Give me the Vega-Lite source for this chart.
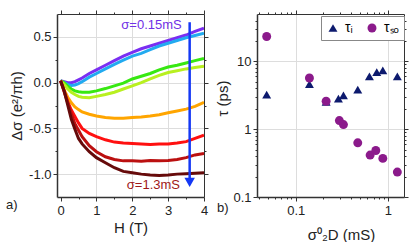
{
  "$schema": "https://vega.github.io/schema/vega-lite/v6.json",
  "padding": {"left": 6, "top": 9, "right": 1, "bottom": 0},
  "spacing": 53,
  "bounds": "flush",
  "resolve": {"scale": {"color": "independent", "shape": "independent"}, "legend": {"color": "independent", "shape": "independent"}},
  "config": {
    "font": "Liberation Sans",
    "view": {"stroke": null},
    "axis": {
      "domainColor": "#333333",
      "tickColor": "#333333",
      "tickWidth": 1,
      "labelFont": "Liberation Sans",
      "labelFontSize": 13,
      "labelColor": "#222222",
      "labelFlush": false,
      "labelOverlap": false,
      "titleFont": "Liberation Sans",
      "titleFontSize": 15,
      "titleFontWeight": "normal",
      "titleColor": "#222222",
      "gridColor": "#dddddd",
      "gridWidth": 1
    },
    "title": {"font": "Liberation Sans", "fontSize": 13, "fontWeight": "normal", "color": "#222222"}
  },
  "hconcat": [
    {
      "width": 147,
      "height": 183,
      "title": {"text": "a)", "orient": "bottom", "anchor": "start", "frame": "group", "dx": -51, "dy": -36, "offset": 0},
      "layer": [
        {
          "data": {"values": [
            {"s":"s1","H":0,"d":0.02},{"s":"s1","H":0.1,"d":0.01},{"s":"s1","H":0.2,"d":0.0},{"s":"s1","H":0.3,"d":0.0},{"s":"s1","H":0.4,"d":0.01},{"s":"s1","H":0.5,"d":0.03},{"s":"s1","H":0.6,"d":0.05},{"s":"s1","H":0.8,"d":0.1},{"s":"s1","H":1.0,"d":0.14},{"s":"s1","H":1.25,"d":0.19},{"s":"s1","H":1.5,"d":0.24},{"s":"s1","H":1.75,"d":0.29},{"s":"s1","H":2.0,"d":0.33},{"s":"s1","H":2.25,"d":0.37},{"s":"s1","H":2.5,"d":0.4},{"s":"s1","H":2.75,"d":0.43},{"s":"s1","H":3.0,"d":0.46},{"s":"s1","H":3.25,"d":0.49},{"s":"s1","H":3.5,"d":0.52},{"s":"s1","H":3.75,"d":0.56},{"s":"s1","H":4.0,"d":0.595},
            {"s":"s2","H":0,"d":0.02},{"s":"s2","H":0.1,"d":0.0},{"s":"s2","H":0.2,"d":-0.02},{"s":"s2","H":0.3,"d":-0.03},{"s":"s2","H":0.4,"d":-0.025},{"s":"s2","H":0.5,"d":-0.01},{"s":"s2","H":0.6,"d":0.01},{"s":"s2","H":0.8,"d":0.06},{"s":"s2","H":1.0,"d":0.1},{"s":"s2","H":1.25,"d":0.15},{"s":"s2","H":1.5,"d":0.2},{"s":"s2","H":1.75,"d":0.245},{"s":"s2","H":2.0,"d":0.29},{"s":"s2","H":2.25,"d":0.32},{"s":"s2","H":2.5,"d":0.36},{"s":"s2","H":2.75,"d":0.4},{"s":"s2","H":3.0,"d":0.43},{"s":"s2","H":3.25,"d":0.46},{"s":"s2","H":3.5,"d":0.49},{"s":"s2","H":3.75,"d":0.515},{"s":"s2","H":4.0,"d":0.54},
            {"s":"s3","H":0,"d":0.02},{"s":"s3","H":0.1,"d":0.0},{"s":"s3","H":0.2,"d":-0.04},{"s":"s3","H":0.3,"d":-0.07},{"s":"s3","H":0.4,"d":-0.09},{"s":"s3","H":0.5,"d":-0.1},{"s":"s3","H":0.6,"d":-0.105},{"s":"s3","H":0.8,"d":-0.105},{"s":"s3","H":1.0,"d":-0.09},{"s":"s3","H":1.25,"d":-0.065},{"s":"s3","H":1.5,"d":-0.035},{"s":"s3","H":1.75,"d":-0.005},{"s":"s3","H":2.0,"d":0.04},{"s":"s3","H":2.25,"d":0.07},{"s":"s3","H":2.5,"d":0.1},{"s":"s3","H":2.75,"d":0.14},{"s":"s3","H":3.0,"d":0.17},{"s":"s3","H":3.25,"d":0.19},{"s":"s3","H":3.5,"d":0.215},{"s":"s3","H":3.75,"d":0.24},{"s":"s3","H":4.0,"d":0.265},
            {"s":"s4","H":0,"d":0.02},{"s":"s4","H":0.1,"d":-0.02},{"s":"s4","H":0.2,"d":-0.07},{"s":"s4","H":0.3,"d":-0.105},{"s":"s4","H":0.4,"d":-0.13},{"s":"s4","H":0.5,"d":-0.15},{"s":"s4","H":0.6,"d":-0.16},{"s":"s4","H":0.8,"d":-0.165},{"s":"s4","H":1.0,"d":-0.15},{"s":"s4","H":1.25,"d":-0.13},{"s":"s4","H":1.5,"d":-0.105},{"s":"s4","H":1.75,"d":-0.07},{"s":"s4","H":2.0,"d":-0.035},{"s":"s4","H":2.25,"d":0.0},{"s":"s4","H":2.5,"d":0.04},{"s":"s4","H":2.75,"d":0.08},{"s":"s4","H":3.0,"d":0.11},{"s":"s4","H":3.25,"d":0.13},{"s":"s4","H":3.5,"d":0.15},{"s":"s4","H":3.75,"d":0.165},{"s":"s4","H":4.0,"d":0.18},
            {"s":"s5","H":0,"d":0.02},{"s":"s5","H":0.1,"d":-0.08},{"s":"s5","H":0.2,"d":-0.16},{"s":"s5","H":0.3,"d":-0.22},{"s":"s5","H":0.4,"d":-0.265},{"s":"s5","H":0.5,"d":-0.295},{"s":"s5","H":0.6,"d":-0.32},{"s":"s5","H":0.8,"d":-0.345},{"s":"s5","H":1.0,"d":-0.365},{"s":"s5","H":1.25,"d":-0.38},{"s":"s5","H":1.5,"d":-0.39},{"s":"s5","H":1.75,"d":-0.39},{"s":"s5","H":2.0,"d":-0.38},{"s":"s5","H":2.25,"d":-0.375},{"s":"s5","H":2.5,"d":-0.365},{"s":"s5","H":2.75,"d":-0.35},{"s":"s5","H":3.0,"d":-0.33},{"s":"s5","H":3.25,"d":-0.31},{"s":"s5","H":3.5,"d":-0.29},{"s":"s5","H":3.75,"d":-0.26},{"s":"s5","H":4.0,"d":-0.215},
            {"s":"s6","H":0,"d":0.02},{"s":"s6","H":0.1,"d":-0.09},{"s":"s6","H":0.2,"d":-0.21},{"s":"s6","H":0.3,"d":-0.3},{"s":"s6","H":0.4,"d":-0.37},{"s":"s6","H":0.5,"d":-0.44},{"s":"s6","H":0.6,"d":-0.5},{"s":"s6","H":0.8,"d":-0.555},{"s":"s6","H":1.0,"d":-0.59},{"s":"s6","H":1.25,"d":-0.625},{"s":"s6","H":1.5,"d":-0.65},{"s":"s6","H":1.75,"d":-0.66},{"s":"s6","H":2.0,"d":-0.665},{"s":"s6","H":2.25,"d":-0.67},{"s":"s6","H":2.5,"d":-0.675},{"s":"s6","H":2.75,"d":-0.67},{"s":"s6","H":3.0,"d":-0.67},{"s":"s6","H":3.25,"d":-0.66},{"s":"s6","H":3.5,"d":-0.645},{"s":"s6","H":3.75,"d":-0.61},{"s":"s6","H":4.0,"d":-0.575},
            {"s":"s7","H":0,"d":0.02},{"s":"s7","H":0.1,"d":-0.1},{"s":"s7","H":0.2,"d":-0.22},{"s":"s7","H":0.3,"d":-0.34},{"s":"s7","H":0.4,"d":-0.45},{"s":"s7","H":0.5,"d":-0.52},{"s":"s7","H":0.6,"d":-0.59},{"s":"s7","H":0.8,"d":-0.69},{"s":"s7","H":1.0,"d":-0.755},{"s":"s7","H":1.25,"d":-0.81},{"s":"s7","H":1.5,"d":-0.84},{"s":"s7","H":1.75,"d":-0.855},{"s":"s7","H":2.0,"d":-0.855},{"s":"s7","H":2.25,"d":-0.86},{"s":"s7","H":2.5,"d":-0.85},{"s":"s7","H":2.75,"d":-0.855},{"s":"s7","H":3.0,"d":-0.85},{"s":"s7","H":3.25,"d":-0.84},{"s":"s7","H":3.5,"d":-0.82},{"s":"s7","H":3.75,"d":-0.79},{"s":"s7","H":4.0,"d":-0.775},
            {"s":"s8","H":0,"d":0.02},{"s":"s8","H":0.1,"d":-0.09},{"s":"s8","H":0.2,"d":-0.245},{"s":"s8","H":0.3,"d":-0.4},{"s":"s8","H":0.4,"d":-0.51},{"s":"s8","H":0.5,"d":-0.61},{"s":"s8","H":0.6,"d":-0.67},{"s":"s8","H":0.8,"d":-0.755},{"s":"s8","H":1.0,"d":-0.82},{"s":"s8","H":1.25,"d":-0.875},{"s":"s8","H":1.5,"d":-0.93},{"s":"s8","H":1.75,"d":-0.97},{"s":"s8","H":2.0,"d":-0.985},{"s":"s8","H":2.25,"d":-1.0},{"s":"s8","H":2.5,"d":-1.01},{"s":"s8","H":2.75,"d":-1.015},{"s":"s8","H":3.0,"d":-1.01},{"s":"s8","H":3.25,"d":-1.0},{"s":"s8","H":3.5,"d":-0.995},{"s":"s8","H":3.75,"d":-0.99},{"s":"s8","H":4.0,"d":-0.985}
          ]},
          "mark": {"type": "line", "strokeWidth": 3, "clip": true},
          "encoding": {
            "x": {"field": "H", "type": "quantitative", "scale": {"domain": [-0.1, 4], "nice": false, "zero": false},
              "axis": {"orient": "bottom", "values": [0,0.5,1,1.5,2,2.5,3,3.5,4], "grid": true,
                "labelExpr": "datum.value % 1 == 0 ? format(datum.value, 'd') : ''",
                "tickSize": {"condition": {"test": "datum.value % 1 == 0", "value": 4}, "value": 2},
                "gridOpacity": {"condition": {"test": "datum.value % 1 == 0 && datum.value > 0 && datum.value < 4", "value": 1}, "value": 0},
                "domainWidth": 1.5, "labelPadding": 3, "title": "H (T)", "titlePadding": 3}},
            "y": {"field": "d", "type": "quantitative", "scale": {"domain": [-1.25, 0.75], "nice": false, "zero": false},
              "axis": {"orient": "left", "values": [-1,-0.75,-0.5,-0.25,0,0.25,0.5], "grid": true,
                "labelExpr": "datum.value == -1 ? '-1.0' : datum.value == -0.5 ? '-0.5' : datum.value == 0 ? '0.0' : datum.value == 0.5 ? '0.5' : ''",
                "tickSize": {"condition": {"test": "datum.value % 0.5 == 0", "value": 4}, "value": 2},
                "gridOpacity": {"condition": {"test": "datum.value % 0.5 == 0", "value": 1}, "value": 0},
                "domainWidth": 1.5, "labelPadding": 2, "title": "Δσ (e²/πh)", "titlePadding": 4}},
            "color": {"field": "s", "type": "nominal",
              "scale": {"domain": ["s1","s2","s3","s4","s5","s6","s7","s8"],
                "range": ["#7a2ef2","#22aaf0","#38e812","#b8f020","#ffa500","#ff1010","#bb1010","#660a0a"]},
              "legend": null}
          }
        },
        {
          "data": {"values": [{"H": 3.6, "y": 0.66, "y2": -1.06}]},
          "mark": {"type": "rule", "color": "#1438f5", "strokeWidth": 2.5},
          "encoding": {
            "x": {"field": "H", "type": "quantitative", "scale": {"domain": [-0.1, 4], "nice": false, "zero": false},
              "axis": {"orient": "top", "values": [0,0.5,1,1.5,2,2.5,3,3.5,4], "labels": false, "grid": false, "title": null,
                "tickSize": {"condition": {"test": "datum.value % 1 == 0", "value": 4}, "value": 2}, "domainWidth": 1}},
            "y": {"field": "y", "type": "quantitative", "scale": {"domain": [-1.25, 0.75], "nice": false, "zero": false},
              "axis": {"orient": "right", "values": [-1,-0.75,-0.5,-0.25,0,0.25,0.5], "labels": false, "grid": false, "title": null,
                "tickSize": {"condition": {"test": "datum.value % 0.5 == 0", "value": 4}, "value": 2}, "domainWidth": 1}},
            "y2": {"field": "y2"}
          }
        },
        {
          "data": {"values": [{"H": 3.6, "y": -1.09}]},
          "mark": {"type": "point", "shape": "triangle-down", "filled": true, "opacity": 1, "size": 110, "color": "#1438f5"},
          "encoding": {
            "x": {"field": "H", "type": "quantitative", "scale": {"domain": [-0.1, 4], "nice": false, "zero": false}, "axis": null},
            "y": {"field": "y", "type": "quantitative", "scale": {"domain": [-1.25, 0.75], "nice": false, "zero": false}, "axis": null}
          }
        },
        {
          "data": {"values": [{"H": 3.38, "y": 0.635, "t": "σ=0.15mS"}]},
          "mark": {"type": "text", "align": "right", "baseline": "middle", "fontSize": 13, "color": "#7030e6"},
          "encoding": {
            "x": {"field": "H", "type": "quantitative", "scale": {"domain": [-0.1, 4], "nice": false, "zero": false}, "axis": null},
            "y": {"field": "y", "type": "quantitative", "scale": {"domain": [-1.25, 0.75], "nice": false, "zero": false}, "axis": null},
            "text": {"field": "t"}
          }
        },
        {
          "data": {"values": [{"H": 3.33, "y": -1.116, "t": "σ=1.3mS"}]},
          "mark": {"type": "text", "align": "right", "baseline": "middle", "fontSize": 13, "color": "#a01818"},
          "encoding": {
            "x": {"field": "H", "type": "quantitative", "scale": {"domain": [-0.1, 4], "nice": false, "zero": false}, "axis": null},
            "y": {"field": "y", "type": "quantitative", "scale": {"domain": [-1.25, 0.75], "nice": false, "zero": false}, "axis": null},
            "text": {"field": "t"}
          }
        }
      ],
      "resolve": {"axis": {"x": "independent", "y": "independent"}}
    },
    {
      "width": 147,
      "height": 183,
      "title": {"text": "b)", "orient": "bottom", "anchor": "start", "frame": "group", "dx": -40, "dy": -40, "offset": 0},
      "layer": [
        {
          "data": {"values": [
            {"sig": 0.0484, "tau": 3.24, "type": "τᵢ"},
            {"sig": 0.141, "tau": 4.64, "type": "τᵢ"},
            {"sig": 0.214, "tau": 2.52, "type": "τᵢ"},
            {"sig": 0.291, "tau": 2.82, "type": "τᵢ"},
            {"sig": 0.33, "tau": 3.16, "type": "τᵢ"},
            {"sig": 0.472, "tau": 3.83, "type": "τᵢ"},
            {"sig": 0.632, "tau": 6.0, "type": "τᵢ"},
            {"sig": 0.759, "tau": 6.97, "type": "τᵢ"},
            {"sig": 0.883, "tau": 7.38, "type": "τᵢ"},
            {"sig": 1.27, "tau": 6.0, "type": "τᵢ"}
          ]},
          "mark": {"type": "point", "filled": true, "opacity": 1, "size": 80},
          "encoding": {
            "x": {"field": "sig", "type": "quantitative", "scale": {"type": "log", "domain": [0.038, 1.5], "nice": false},
              "axis": {"orient": "bottom", "values": [0.04,0.05,0.06,0.07,0.08,0.09,0.1,0.2,0.3,0.4,0.5,0.6,0.7,0.8,0.9,1], "grid": true,
                "labelExpr": "datum.value == 0.1 ? '0.1' : datum.value == 1 ? '1' : ''",
                "tickSize": {"condition": {"test": "datum.value == 0.1 || datum.value == 1", "value": 4}, "value": 2},
                "gridOpacity": {"condition": {"test": "datum.value == 0.1 || datum.value == 1", "value": 1}, "value": 0},
                "domainWidth": 1.5, "labelPadding": 3, "title": "σ⁰₂D (mS)", "titlePadding": 10, "titleX": 84}},
            "y": {"field": "tau", "type": "quantitative", "scale": {"type": "log", "domain": [0.1, 50], "nice": false},
              "axis": {"orient": "left", "values": [0.1,0.2,0.3,0.4,0.5,0.6,0.7,0.8,0.9,1,2,3,4,5,6,7,8,9,10,20,30,40], "grid": true,
                "labelExpr": "datum.value == 0.1 ? '0.1' : datum.value == 1 ? '1' : datum.value == 10 ? '10' : ''",
                "tickSize": {"condition": {"test": "datum.value == 0.1 || datum.value == 1 || datum.value == 10", "value": 4}, "value": 2},
                "gridOpacity": {"condition": {"test": "datum.value == 1 || datum.value == 10", "value": 1}, "value": 0},
                "domainWidth": 1.5, "labelPadding": 2, "title": "τ (ps)", "titlePadding": 2, "titleY": 84}},
            "color": {"field": "type", "type": "nominal",
              "scale": {"domain": ["τᵢ", "τₛₒ"], "range": ["#0d1a6e", "#8b1a8b"]},
              "legend": {"orient": "none", "legendX": 64, "legendY": 2, "direction": "horizontal", "title": null,
                "strokeColor": "#888888", "fillColor": "#ffffff", "padding": 5, "labelFontSize": 14, "symbolSize": 80,
                "columnPadding": 12, "labelOffset": 5, "symbolStrokeWidth": 0}},
            "shape": {"field": "type", "type": "nominal",
              "scale": {"domain": ["τᵢ", "τₛₒ"], "range": ["triangle-up", "circle"]},
              "legend": {"orient": "none", "legendX": 64, "legendY": 2, "direction": "horizontal", "title": null,
                "strokeColor": "#888888", "fillColor": "#ffffff", "padding": 5, "labelFontSize": 14, "symbolSize": 80,
                "columnPadding": 12, "labelOffset": 5, "symbolStrokeWidth": 0}}
          }
        },
        {
          "data": {"values": [
            {"sig": 0.0484, "tau": 23.3, "type": "τₛₒ"},
            {"sig": 0.141, "tau": 5.69, "type": "τₛₒ"},
            {"sig": 0.214, "tau": 2.58, "type": "τₛₒ"},
            {"sig": 0.298, "tau": 1.34, "type": "τₛₒ"},
            {"sig": 0.33, "tau": 1.17, "type": "τₛₒ"},
            {"sig": 0.472, "tau": 0.63, "type": "τₛₒ"},
            {"sig": 0.643, "tau": 0.415, "type": "τₛₒ"},
            {"sig": 0.741, "tau": 0.485, "type": "τₛₒ"},
            {"sig": 0.883, "tau": 0.371, "type": "τₛₒ"},
            {"sig": 1.27, "tau": 0.233, "type": "τₛₒ"}
          ]},
          "mark": {"type": "point", "filled": true, "opacity": 1, "size": 80},
          "encoding": {
            "x": {"field": "sig", "type": "quantitative", "scale": {"type": "log", "domain": [0.038, 1.5], "nice": false},
              "axis": {"orient": "top", "values": [0.04,0.05,0.06,0.07,0.08,0.09,0.1,0.2,0.3,0.4,0.5,0.6,0.7,0.8,0.9,1], "labels": false, "grid": false, "title": null,
                "tickSize": {"condition": {"test": "datum.value == 0.1 || datum.value == 1", "value": 4}, "value": 2}, "domainWidth": 1}},
            "y": {"field": "tau", "type": "quantitative", "scale": {"type": "log", "domain": [0.1, 50], "nice": false},
              "axis": {"orient": "right", "values": [0.1,0.2,0.3,0.4,0.5,0.6,0.7,0.8,0.9,1,2,3,4,5,6,7,8,9,10,20,30,40], "labels": false, "grid": false, "title": null,
                "tickSize": {"condition": {"test": "datum.value == 0.1 || datum.value == 1 || datum.value == 10", "value": 4}, "value": 2}, "domainWidth": 1}},
            "color": {"field": "type", "type": "nominal"},
            "shape": {"field": "type", "type": "nominal"}
          }
        }
      ],
      "resolve": {"axis": {"x": "independent", "y": "independent"}}
    }
  ]
}
